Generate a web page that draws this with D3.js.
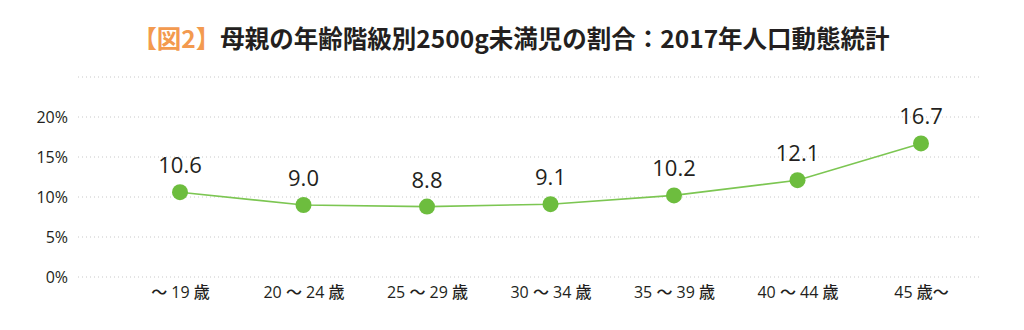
<!DOCTYPE html>
<html><head><meta charset="utf-8">
<script src="https://cdn.jsdelivr.net/npm/d3@7"></script>
<style>body{margin:0;background:#fff}svg{display:block}</style>
</head><body>
<svg id="c" width="1024" height="330"></svg>
<script>
const categories = ["～ 19 歳","20 ～ 24 歳","25 ～ 29 歳","30 ～ 34 歳","35 ～ 39 歳","40 ～ 44 歳","45 歳～"];
const values = [10.6, 9.0, 8.8, 9.1, 10.2, 12.1, 16.7];
const yTicks = [0, 5, 10, 15, 20];
const gridLines = [0, 5, 10, 15, 20, 25];
const titleBracket = "【図2】";
const titleMain = "母親の年齢階級別2500g未満児の割合：2017年人口動態統計";

const svg = d3.select("#c");
const font = "'Noto Sans CJK JP','Noto Sans',sans-serif";
const numFont = "'Open Sans','Noto Sans CJK JP',sans-serif";

const x = d3.scalePoint().domain(categories).range([180, 921]);
const y = d3.scaleLinear().domain([0, 25]).range([277, 77]);

// title
const t = svg.append("text").attr("x", 511).attr("y", 48).attr("text-anchor", "middle")
  .attr("font-family", font).attr("font-weight", "bold").attr("font-size", 24.5);
t.append("tspan").attr("fill", "#f39a4f").text(titleBracket);
t.append("tspan").attr("fill", "#231f20").text(titleMain);

// grid
svg.append("g").selectAll("line").data(gridLines).join("line")
  .attr("x1", 78).attr("x2", 982)
  .attr("y1", d => y(d)).attr("y2", d => y(d))
  .attr("stroke", "#c8c8c8").attr("stroke-width", 1).attr("stroke-dasharray", "1,3");

// y axis
const yAxis = d3.axisLeft(y).tickValues(yTicks).tickSize(0).tickPadding(0).tickFormat(d => d + "%");
const ga = svg.append("g").attr("transform", "translate(68,0)").call(yAxis);
ga.select(".domain").remove();
ga.selectAll("text").attr("font-family", numFont).attr("font-size", 16).attr("font-weight", 500).attr("fill", "#231f20");

// x axis
const xAxis = d3.axisBottom(x).tickSize(0).tickPadding(0);
const gx = svg.append("g").attr("transform", "translate(0,287)").call(xAxis);
gx.select(".domain").remove();
gx.selectAll("text").attr("font-family", numFont).attr("font-size", 16).attr("font-weight", 500).attr("fill", "#231f20");

// line
const line = d3.line().x((d, i) => x(categories[i])).y(d => y(d));
svg.append("path").datum(values).attr("d", line)
  .attr("fill", "none").attr("stroke", "#7cc652").attr("stroke-width", 1.6);

// points
svg.append("g").selectAll("circle").data(values).join("circle")
  .attr("cx", (d, i) => x(categories[i])).attr("cy", d => y(d)).attr("r", 8)
  .attr("fill", "#6dbd3e");

// value labels
svg.append("g").selectAll("text").data(values).join("text")
  .attr("x", (d, i) => x(categories[i])).attr("y", d => y(d) - 19)
  .attr("text-anchor", "middle").attr("font-family", numFont).attr("font-size", 22)
  .attr("font-weight", 500).attr("fill", "#231f20").text(d => d.toFixed(1));
</script>
</body></html>
